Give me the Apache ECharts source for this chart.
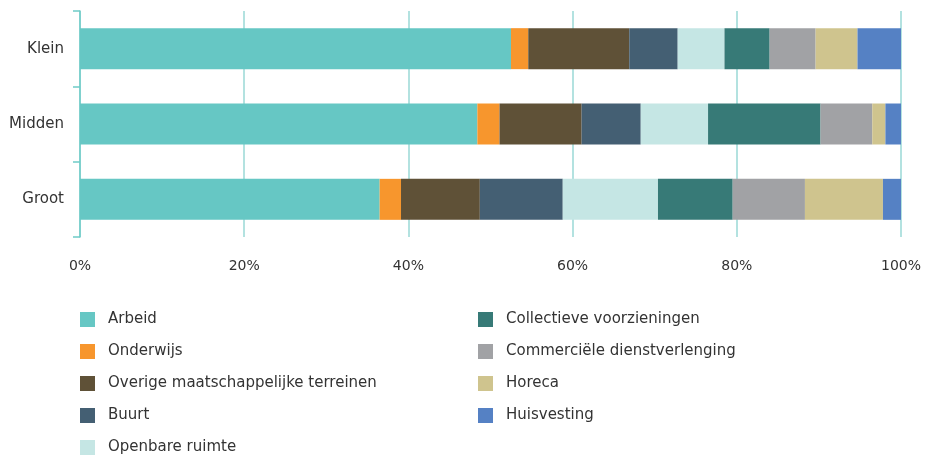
<!DOCTYPE html>
<html>
<head>
<meta charset="utf-8">
<script src="https://cdn.jsdelivr.net/npm/echarts@6/dist/echarts.min.js"></script>
<style>
  html, body { margin: 0; padding: 0; background: #fff; }
  #chart { width: 925px; height: 460px; }
</style>
</head>
<body>
<div id="chart"></div>
<script>
// categories (top to bottom)
var categories = ["Klein", "Midden", "Groot"];
var xTicks = [0, 20, 40, 60, 80, 100];

// share per sector, in %
var arbeid = [52.5, 48.4, 36.5];
var onderwijs = [2.1, 2.7, 2.6];
var overige = [12.3, 10.0, 9.6];
var buurt = [5.9, 7.2, 10.1];
var openbare = [5.7, 8.2, 11.6];
var collectieve = [5.5, 13.7, 9.1];
var commercieel = [5.6, 6.3, 8.8];
var horeca = [5.1, 1.6, 9.5];
var huisvesting = [5.3, 1.9, 2.2];

var seriesDefs = [
  { name: "Arbeid", data: arbeid, color: "#66c7c4" },
  { name: "Onderwijs", data: onderwijs, color: "#f7962d" },
  { name: "Overige maatschappelijke terreinen", data: overige, color: "#5f5137" },
  { name: "Buurt", data: buurt, color: "#445f73" },
  { name: "Openbare ruimte", data: openbare, color: "#c5e6e4" },
  { name: "Collectieve voorzieningen", data: collectieve, color: "#377a77" },
  { name: "Commerciële dienstverlenging", data: commercieel, color: "#a1a2a5" },
  { name: "Horeca", data: horeca, color: "#cfc48e" },
  { name: "Huisvesting", data: huisvesting, color: "#5581c4" },
];

var font = "DejaVu Sans";
var chart = echarts.init(document.getElementById("chart"));

var legendBase = {
  orient: "vertical",
  top: 312,
  height: 160,
  padding: 0,
  icon: "rect",
  itemWidth: 15,
  itemHeight: 15,
  itemGap: 17,
  selectedMode: false,
  textStyle: {
    fontFamily: font,
    fontSize: 15,
    color: "#333",
    padding: [0, 0, 0, 8],
  },
};

var option = {
  animation: false,
  textStyle: { fontFamily: font },
  legend: [
    Object.assign({}, legendBase, {
      left: 80,
      data: seriesDefs.slice(0, 5).map(function (s) { return s.name; }),
    }),
    Object.assign({}, legendBase, {
      left: 478,
      data: seriesDefs.slice(5).map(function (s) { return s.name; }),
    }),
  ],
  grid: {
    left: 80,
    right: 24,
    top: 11,
    bottom: 223,
  },
  xAxis: {
    type: "value",
    min: xTicks[0],
    max: xTicks[xTicks.length - 1],
    interval: 20,
    axisLine: { show: false },
    axisTick: { show: false },
    splitLine: {
      show: true,
      lineStyle: { color: "#9ad8d6", width: 1.5 },
    },
    axisLabel: {
      margin: 22,
      fontFamily: font,
      fontSize: 14,
      color: "#333",
      formatter: function (v) { return v + "%"; },
    },
  },
  yAxis: {
    type: "category",
    inverse: true,
    data: categories,
    axisLine: { show: true, lineStyle: { color: "#6fcbc8", width: 1.5 } },
    axisTick: { show: true, length: 7, lineStyle: { color: "#6fcbc8", width: 1.5 } },
    axisLabel: {
      margin: 16,
      fontFamily: font,
      fontSize: 15,
      color: "#333",
    },
  },
  series: seriesDefs.map(function (s) {
    return {
      name: s.name,
      type: "bar",
      stack: "total",
      barWidth: 41,
      data: s.data,
      itemStyle: { color: s.color },
    };
  }),
};

chart.setOption(option);
</script>
</body>
</html>
